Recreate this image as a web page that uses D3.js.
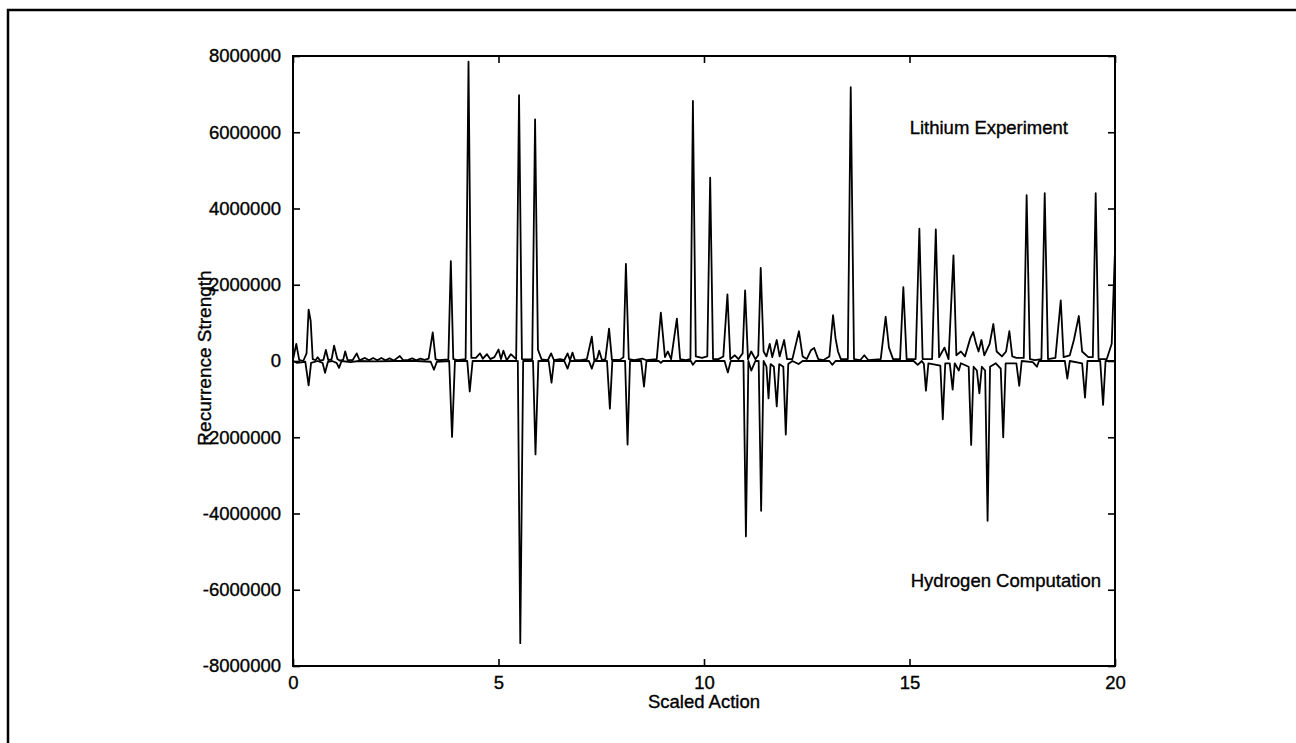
<!DOCTYPE html>
<html>
<head>
<meta charset="utf-8">
<script src="https://cdn.jsdelivr.net/npm/d3@7"></script>
<style>
  html, body { margin: 0; padding: 0; background: #fff; }
  svg { display: block; }
  text { font-family: "Liberation Sans", Arial, Helvetica, sans-serif; fill: #000; }
</style>
</head>
<body>
<svg id="chart" width="1296" height="743"></svg>
<script>
// ---- data (strength in millions) ----
const UNIT = 1e6;
const xTicks = [0, 5, 10, 15, 20];
const yTicks = [-8000000, -6000000, -4000000, -2000000, 0, 2000000, 4000000, 6000000, 8000000];
const seriesLabels = ["Lithium Experiment", "Hydrogen Computation"];
const xLabel = "Scaled Action";
const yLabel = "Recurrence Strength";

// Lithium experiment: [scaled action, strength (millions)]
const lithium = [
  [0.0,0.03],[0.08,0.45],[0.15,0.03],[0.25,0.0],[0.33,0.2],[0.38,1.35],[0.43,1.05],[0.48,0.05],
  [0.55,0.02],[0.6,0.1],[0.66,0.01],[0.74,0.03],[0.8,0.29],[0.86,0.02],[0.94,0.05],[1.0,0.4],
  [1.08,0.05],[1.14,0.01],[1.22,0.03],[1.27,0.25],[1.33,0.02],[1.45,0.02],[1.55,0.2],[1.62,0.02],
  [1.75,0.08],[1.85,0.02],[1.95,0.08],[2.05,0.02],[2.15,0.08],[2.25,0.02],[2.35,0.07],[2.45,0.01],
  [2.6,0.13],[2.68,0.02],[2.8,0.03],[2.9,0.07],[3.0,0.02],[3.1,0.06],[3.2,0.03],[3.3,0.06],
  [3.4,0.75],[3.47,0.04],[3.55,0.02],[3.78,0.04],[3.84,2.62],[3.9,0.05],[4.0,0.02],[4.2,0.05],
  [4.27,7.85],[4.34,0.08],[4.45,0.08],[4.55,0.2],[4.62,0.06],[4.72,0.18],[4.8,0.05],[4.9,0.1],
  [5.0,0.3],[5.06,0.05],[5.12,0.27],[5.2,0.02],[5.3,0.18],[5.43,0.05],[5.5,6.97],[5.57,0.05],
  [5.65,0.04],[5.82,0.05],[5.89,6.34],[5.96,0.3],[6.05,0.04],[6.2,0.02],[6.28,0.2],[6.35,0.02],
  [6.5,0.05],[6.6,0.02],[6.68,0.2],[6.74,0.02],[6.8,0.22],[6.86,0.02],[7.0,0.02],[7.15,0.05],
  [7.27,0.64],[7.33,0.03],[7.4,0.06],[7.45,0.27],[7.52,0.02],[7.6,0.05],[7.69,0.85],[7.76,0.03],
  [7.95,0.03],[8.04,0.1],[8.1,2.55],[8.17,0.05],[8.3,0.02],[8.5,0.06],[8.6,0.02],[8.85,0.05],
  [8.95,1.27],[9.05,0.1],[9.12,0.25],[9.2,0.05],[9.34,1.11],[9.42,0.05],[9.55,0.02],[9.67,0.05],
  [9.73,6.82],[9.8,0.12],[9.95,0.08],[10.08,0.12],[10.15,4.81],[10.22,0.05],[10.35,0.05],[10.47,0.12],
  [10.57,1.75],[10.64,0.05],[10.75,0.15],[10.84,0.05],[10.94,0.2],[11.0,1.85],[11.07,0.05],[11.15,0.25],
  [11.25,0.05],[11.32,0.15],[11.38,2.44],[11.45,0.25],[11.52,0.12],[11.6,0.45],[11.66,0.1],[11.77,0.55],
  [11.84,0.12],[11.95,0.55],[12.02,0.05],[12.15,0.05],[12.31,0.78],[12.4,0.12],[12.5,0.05],[12.6,0.28],
  [12.68,0.34],[12.78,0.05],[12.9,0.02],[13.05,0.12],[13.14,1.2],[13.2,0.6],[13.26,0.25],[13.33,0.05],
  [13.5,0.05],[13.57,7.18],[13.65,0.05],[13.8,0.02],[13.9,0.15],[14.0,0.02],[14.3,0.05],[14.42,1.16],
  [14.5,0.35],[14.6,0.05],[14.77,0.05],[14.85,1.94],[14.93,0.05],[15.15,0.05],[15.24,3.47],[15.32,0.05],
  [15.55,0.05],[15.64,3.45],[15.72,0.1],[15.85,0.35],[15.95,0.05],[16.07,2.77],[16.14,0.15],[16.25,0.25],
  [16.35,0.12],[16.48,0.6],[16.55,0.76],[16.62,0.45],[16.68,0.25],[16.75,0.55],[16.82,0.15],[16.95,0.45],
  [17.04,0.97],[17.12,0.25],[17.25,0.12],[17.35,0.25],[17.43,0.78],[17.5,0.12],[17.6,0.08],[17.78,0.08],
  [17.85,4.35],[17.93,0.05],[18.05,0.02],[18.21,0.05],[18.29,4.4],[18.37,0.05],[18.55,0.08],[18.68,1.59],
  [18.75,0.1],[18.9,0.15],[19.0,0.55],[19.12,1.18],[19.2,0.25],[19.35,0.1],[19.46,0.1],[19.53,4.4],
  [19.6,0.05],[19.8,0.05],[19.92,0.45],[20.0,2.9]
];

// Hydrogen computation (plotted negative): [scaled action, strength (millions)]
const hydrogen = [
  [0.0,0],[0.1,-0.05],[0.3,-0.02],[0.38,-0.64],[0.44,-0.05],[0.6,0],[0.72,-0.05],[0.78,-0.31],
  [0.85,-0.02],[0.95,0],[1.06,-0.05],[1.12,-0.18],[1.18,0],[1.4,-0.03],[1.6,0],[2.0,-0.01],
  [2.5,0],[3.0,0],[3.35,-0.02],[3.43,-0.23],[3.5,-0.02],[3.8,0],[3.87,-1.99],[3.94,0],
  [4.24,0],[4.3,-0.8],[4.37,0],[5.0,0],[5.47,0],[5.53,-7.4],[5.6,0],[5.84,0],
  [5.9,-2.45],[5.97,0],[6.22,0],[6.29,-0.57],[6.35,0],[6.6,0],[6.68,-0.2],[6.74,0],
  [7.2,0],[7.27,-0.2],[7.33,0],[7.64,0],[7.71,-1.25],[7.77,0],[8.08,0],[8.14,-2.19],
  [8.2,0],[8.47,0],[8.54,-0.67],[8.6,0],[8.9,0],[8.95,-0.05],[9.0,0],[9.68,0],[9.73,-0.1],[9.8,0],
  [10.5,0],[10.58,-0.3],[10.65,0],[10.96,0],[11.02,-4.6],[11.08,0],[11.15,-0.25],[11.25,0],
  [11.33,0],[11.39,-3.93],[11.45,0],[11.52,-0.15],[11.57,-0.98],[11.62,-0.08],[11.7,-0.15],[11.77,-1.19],
  [11.83,-0.08],[11.93,-0.15],[11.99,-1.93],[12.05,-0.08],[12.15,0],[12.3,-0.08],[12.4,0],[13.05,0],[13.12,-0.1],
  [13.2,0],[15.1,0],[15.2,-0.1],[15.3,0],[15.35,-0.08],[15.4,-0.78],[15.46,-0.06],[15.75,-0.12],
  [15.81,-1.53],[15.87,-0.06],[15.98,-0.06],[16.05,-0.75],[16.1,-0.06],[16.2,-0.25],[16.25,-0.06],[16.44,-0.15],
  [16.5,-2.2],[16.56,-0.15],[16.64,-0.25],[16.7,-0.85],[16.76,-0.15],[16.84,-0.25],[16.9,-4.19],[16.96,-0.15],
  [17.1,-0.06],[17.22,-0.2],[17.28,-2.0],[17.34,-0.06],[17.6,-0.06],[17.67,-0.65],[17.73,0],[18.0,-0.03],
  [18.1,-0.15],[18.15,0],[18.78,0],[18.84,-0.46],[18.9,0],[19.2,-0.06],[19.27,-0.96],[19.33,0],
  [19.64,0],[19.71,-1.15],[19.77,0],[20.0,0]
];

// ---- layout ----
const svg = d3.select("#chart");
const plot = { left: 293, right: 1115, top: 56, bottom: 666 };

const x = d3.scaleLinear().domain([0, 20]).range([plot.left, plot.right]);
const y = d3.scaleLinear().domain([-8000000, 8000000]).range([plot.bottom, plot.top]);

// outer frame
svg.append("rect")
  .attr("x", 8).attr("y", 10).attr("width", 1310).attr("height", 760)
  .attr("fill", "none").attr("stroke", "#000").attr("stroke-width", 2.5);

const fmt = d => String(d);   // plain hyphen-minus, no grouping
const fontSize = "18.5px";
const textStroke = 0.35;

// axes with inward ticks
const gLeft = svg.append("g").attr("transform", `translate(${plot.left},0)`)
  .call(d3.axisLeft(y).tickValues(yTicks).tickFormat(fmt).tickSizeInner(-7).tickSizeOuter(0).tickPadding(12));
const gRight = svg.append("g").attr("transform", `translate(${plot.right},0)`)
  .call(d3.axisRight(y).tickValues(yTicks).tickFormat("").tickSizeInner(-7).tickSizeOuter(0));
const gBottom = svg.append("g").attr("transform", `translate(0,${plot.bottom})`)
  .call(d3.axisBottom(x).tickValues(xTicks).tickFormat(fmt).tickSizeInner(-7).tickSizeOuter(0).tickPadding(10));
const gTop = svg.append("g").attr("transform", `translate(0,${plot.top})`)
  .call(d3.axisTop(x).tickValues(xTicks).tickFormat("").tickSizeInner(-7).tickSizeOuter(0));

[gLeft, gRight, gBottom, gTop].forEach(g => {
  g.select(".domain").remove();
  g.selectAll(".tick line").attr("stroke", "#000").attr("stroke-width", 1.6);
  g.selectAll("text").attr("font-family", "Liberation Sans, Arial, sans-serif")
    .attr("font-size", fontSize).attr("fill", "#000")
    .attr("stroke", "#000").attr("stroke-width", textStroke);
});

// plot frame
svg.append("rect")
  .attr("x", plot.left).attr("y", plot.top)
  .attr("width", plot.right - plot.left).attr("height", plot.bottom - plot.top)
  .attr("fill", "none").attr("stroke", "#000").attr("stroke-width", 2);

// lines
const line = d3.line().x(d => x(d[0])).y(d => y(d[1] * UNIT));
svg.append("path").datum(hydrogen).attr("d", line)
  .attr("fill", "none").attr("stroke", "#000").attr("stroke-width", 1.8).attr("stroke-linejoin", "round");
svg.append("path").datum(lithium).attr("d", line)
  .attr("fill", "none").attr("stroke", "#000").attr("stroke-width", 1.8).attr("stroke-linejoin", "round");

// series labels
function label(sel) {
  return sel.attr("font-size", fontSize).attr("stroke", "#000").attr("stroke-width", textStroke);
}
label(svg.append("text").attr("x", 1068).attr("y", 134).attr("text-anchor", "end")).text(seriesLabels[0]);
label(svg.append("text").attr("x", 1101).attr("y", 587).attr("text-anchor", "end")).text(seriesLabels[1]);

// axis titles
label(svg.append("text").attr("x", (plot.left + plot.right) / 2).attr("y", 708)
  .attr("text-anchor", "middle")).text(xLabel);
label(svg.append("text").attr("transform", `translate(211,358) rotate(-90)`)
  .attr("text-anchor", "middle")).attr("font-size", "19px").text(yLabel);
</script>
</body>
</html>
